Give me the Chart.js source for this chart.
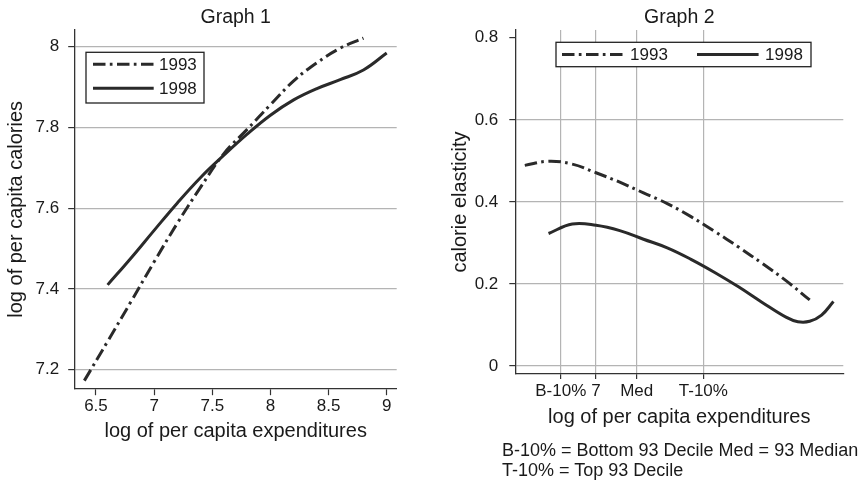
<!DOCTYPE html>
<html>
<head>
<meta charset="utf-8">
<script src="https://cdn.jsdelivr.net/npm/chart.js@4/dist/chart.umd.min.js"></script>
<style>
  html, body { margin: 0; padding: 0; background: #fff; }
  body { width: 864px; height: 482px; position: relative; overflow: hidden; }
  canvas { position: absolute; top: 0; }
  #c1 { left: 0; }
  #c2 { left: 432px; }
  .notes {
    position: absolute; left: 502px; top: 440px;
    font: 18px "Liberation Sans", Arial, sans-serif; line-height: 20px; color: #1a1a1a;
    white-space: nowrap;
  }
</style>
</head>
<body>
<canvas id="c1" width="432" height="482"></canvas>
<canvas id="c2" width="432" height="482"></canvas>
<div class="notes">B-10% = Bottom 93 Decile Med = 93 Median<br>T-10% = Top 93 Decile</div>
<script>
// Graph 1: log calories against log expenditure
const calX93 = [6.4, 6.6, 6.8, 7.0, 7.2, 7.4, 7.6, 7.8, 8.0, 8.2, 8.4, 8.6, 8.8];
const calY93 = [7.173, 7.270, 7.368, 7.467, 7.563, 7.652, 7.735, 7.795, 7.856, 7.915, 7.960, 7.996, 8.021];
const calX98 = [6.6, 6.8, 7.0, 7.2, 7.4, 7.6, 7.8, 8.0, 8.2, 8.4, 8.6, 8.8, 9.0];
const calY98 = [7.410, 7.476, 7.545, 7.613, 7.676, 7.731, 7.783, 7.830, 7.868, 7.896, 7.918, 7.942, 7.984];
const calXTicks = [6.5, 7, 7.5, 8, 8.5, 9];
const calYTicks = [7.2, 7.4, 7.6, 7.8, 8];

// Graph 2: calorie elasticity
const elaX93 = [6.4, 6.6, 6.8, 7.0, 7.2, 7.4, 7.6, 7.8, 8.0, 8.2, 8.4, 8.6, 8.8];
const elaY93 = [0.489, 0.499, 0.492, 0.471, 0.448, 0.422, 0.396, 0.364, 0.328, 0.290, 0.250, 0.208, 0.161];
const elaX98 = [6.6, 6.8, 7.0, 7.2, 7.4, 7.6, 7.8, 8.0, 8.2, 8.4, 8.6, 8.7, 8.8, 8.9, 9.0];
const elaY98 = [0.323, 0.346, 0.343, 0.330, 0.309, 0.288, 0.260, 0.228, 0.193, 0.155, 0.119, 0.108, 0.109, 0.124, 0.157];
const elaXTicks = [6.703, 7, 7.343, 7.904];
const elaXLabels = ['B-10%', '7', 'Med', 'T-10%'];
const elaYTicks = [0, 0.2, 0.4, 0.6, 0.8];

const FONT = '"Liberation Sans", Arial, sans-serif';
const INK = '#2a2a2a';
const GRID = '#b4b4b4';
const DASHDOT = [12.5, 4.3, 2.7, 4.5];

Chart.defaults.font.family = FONT;
Chart.defaults.color = '#1a1a1a';

const pts = (xs, ys) => xs.map((x, i) => ({ x, y: ys[i] }));

function series(label, xs, ys, dash) {
  return {
    label,
    data: pts(xs, ys),
    borderColor: INK,
    borderWidth: 3,
    borderDash: dash,
    borderCapStyle: 'butt',
    pointRadius: 0,
    tension: 0.4,
    fill: false
  };
}

// boxed legend drawn inside the plot area
const boxLegend = {
  id: 'boxLegend',
  afterDatasetsDraw(chart, args, o) {
    const { ctx, chartArea: a } = chart;
    const x0 = a.left + o.left, y0 = a.top + o.top;
    ctx.save();
    ctx.fillStyle = '#fff';
    ctx.fillRect(x0, y0, o.width, o.height);
    ctx.strokeStyle = '#222';
    ctx.lineWidth = 1.3;
    ctx.strokeRect(x0, y0, o.width, o.height);
    chart.data.datasets.forEach((ds, i) => {
      const sx = x0 + o.padX + (o.horizontal ? i * o.step : 0);
      const sy = y0 + o.firstY + (o.horizontal ? 0 : i * o.step);
      ctx.beginPath();
      ctx.setLineDash(ds.borderDash || []);
      ctx.lineWidth = 3;
      ctx.strokeStyle = INK;
      ctx.moveTo(sx, sy);
      ctx.lineTo(sx + o.sample, sy);
      ctx.stroke();
      ctx.setLineDash([]);
      ctx.fillStyle = '#1a1a1a';
      ctx.font = '17px ' + FONT;
      ctx.textBaseline = 'middle';
      ctx.fillText(ds.label, sx + o.sample + o.gap, sy + 1);
    });
    ctx.restore();
  }
};

function axisFont(size) { return { size, family: FONT }; }

new Chart(document.getElementById('c1'), {
  type: 'line',
  data: {
    datasets: [
      series('1993', calX93, calY93, DASHDOT),
      series('1998', calX98, calY98, [])
    ]
  },
  plugins: [boxLegend],
  options: {
    responsive: false,
    animation: false,
    layout: { padding: { left: 0, right: 35.3, top: 0, bottom: 0 } },
    plugins: {
      legend: { display: false },
      tooltip: { enabled: false },
      title: {
        display: true, text: 'Graph 1', fullSize: false,
        font: { size: 19.5, weight: 'normal' }, color: '#1a1a1a',
        padding: { top: 5.5, bottom: 1.1 }
      },
      boxLegend: { left: 11.3, top: 22.3, width: 118, height: 50.7, padX: 7, firstY: 12, step: 24, sample: 60.7, gap: 5.3, horizontal: false }
    },
    scales: {
      x: {
        type: 'linear', min: 6.317, max: 9.086,
        afterFit: s => { s.height = 93.3; },
        afterBuildTicks: s => { s.ticks = calXTicks.map(v => ({ value: v })); },
        ticks: { font: axisFont(17), padding: 1, maxRotation: 0, autoSkip: false, callback: v => String(v) },
        grid: { drawOnChartArea: false, tickLength: 6.5, tickColor: '#333', tickWidth: 1.2 },
        border: { color: '#333', width: 1.3 },
        title: { display: true, text: 'log of per capita expenditures', font: axisFont(20), padding: { top: 0, bottom: 38.3 } }
      },
      y: {
        type: 'linear', min: 7.153, max: 8.041,
        afterFit: s => { s.width = 74.7; },
        afterBuildTicks: s => { s.ticks = calYTicks.map(v => ({ value: v })); },
        ticks: { font: axisFont(17), padding: 9, callback: v => String(v) },
        grid: { color: GRID, lineWidth: 1.2, tickLength: 6.5, tickColor: '#333', tickWidth: 1.2 },
        border: { color: '#333', width: 1.3 },
        title: { display: true, text: 'log of per capita calories', font: axisFont(20), padding: { top: 4.7, bottom: 0 } }
      }
    }
  }
});

new Chart(document.getElementById('c2'), {
  type: 'line',
  data: {
    datasets: [
      series('1993', elaX93, elaY93, DASHDOT),
      series('1998', elaX98, elaY98, [])
    ]
  },
  plugins: [boxLegend],
  options: {
    responsive: false,
    animation: false,
    layout: { padding: { left: 0, right: 20.7, top: 0, bottom: 0 } },
    plugins: {
      legend: { display: false },
      tooltip: { enabled: false },
      title: {
        display: true, text: 'Graph 2', fullSize: false,
        font: { size: 19.5, weight: 'normal' }, color: '#1a1a1a',
        padding: { top: 5.5, bottom: 1.1 }
      },
      boxLegend: { left: 40.7, top: 12.3, width: 255, height: 24.4, padX: 6, firstY: 12.2, step: 135, sample: 61.6, gap: 6.5, horizontal: true }
    },
    scales: {
      x: {
        type: 'linear', min: 6.32, max: 9.083,
        afterFit: s => { s.height = 108; },
        afterBuildTicks: s => { s.ticks = elaXTicks.map(v => ({ value: v })); },
        ticks: { font: axisFont(17), padding: 2, maxRotation: 0, autoSkip: false, callback: (v, i) => elaXLabels[i] },
        grid: { color: GRID, lineWidth: 1.2, tickLength: 5, tickColor: '#333', tickWidth: 1.2 },
        border: { color: '#333', width: 1.3 },
        title: { display: true, text: 'log of per capita expenditures', font: axisFont(20), padding: { top: 0, bottom: 52.6 } }
      },
      y: {
        type: 'linear', min: -0.0195, max: 0.819,
        afterFit: s => { s.width = 83.3; },
        afterBuildTicks: s => { s.ticks = elaYTicks.map(v => ({ value: v })); },
        ticks: { font: axisFont(17), padding: 11, callback: v => String(v) },
        grid: {
          color: c => (c.tick && c.tick.value === 0.8 ? 'rgba(0,0,0,0)' : GRID),
          lineWidth: 1.2, tickLength: 6, tickColor: '#333', tickWidth: 1.2
        },
        border: { color: '#333', width: 1.3 },
        title: { display: true, text: 'calorie elasticity', font: axisFont(20), padding: { top: 16, bottom: 0 } }
      }
    }
  }
});
</script>
</body>
</html>
